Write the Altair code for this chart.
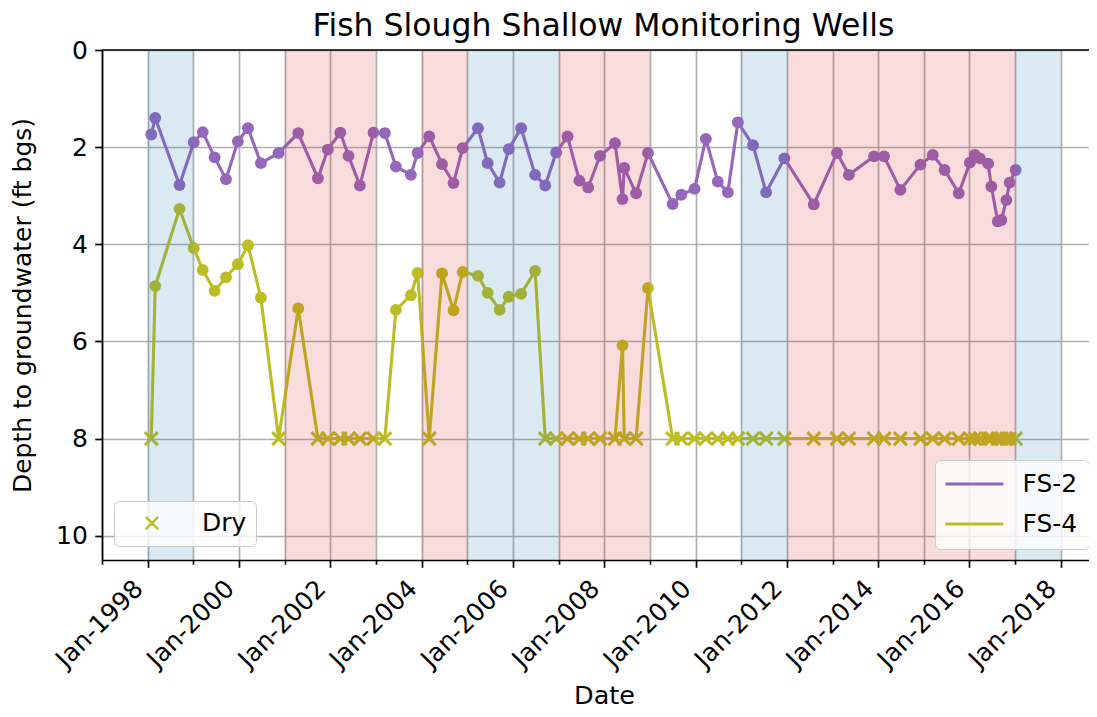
import altair as alt
import pandas as pd

# ---------------- data ----------------
dates = [
    "1998-01-30", "1998-03-03", "1998-09-13", "1999-01-05", "1999-03-18", "1999-06-21", "1999-09-20", "1999-12-24",
    "2000-03-14", "2000-06-25", "2000-11-14", "2001-04-20", "2001-09-24", "2001-12-13", "2002-03-22", "2002-05-27",
    "2002-08-26", "2002-12-13", "2003-03-14", "2003-06-10", "2003-10-08", "2003-12-01", "2004-03-03", "2004-06-13",
    "2004-09-13", "2004-11-25", "2005-03-28", "2005-06-13", "2005-09-17", "2005-11-29", "2006-03-08", "2006-06-28",
    "2006-09-17", "2006-12-13", "2007-03-14", "2007-06-17", "2007-08-26", "2007-11-29", "2008-03-28", "2008-05-27",
    "2008-06-10", "2008-09-13", "2008-12-17", "2009-07-02", "2009-09-09", "2009-12-24", "2010-03-25", "2010-06-28",
    "2010-09-17", "2010-12-06", "2011-04-06", "2011-07-20", "2011-12-13", "2012-08-04", "2013-02-06", "2013-05-12",
    "2013-11-29", "2014-02-17", "2014-06-28", "2014-12-06", "2015-03-14", "2015-06-17", "2015-10-08", "2016-01-05",
    "2016-02-14", "2016-03-25", "2016-05-30", "2016-06-25", "2016-08-15", "2016-09-13", "2016-10-23", "2016-11-18",
    "2017-01-05",
]

fs2 = [
    1.74, 1.40, 2.78, 1.90, 1.69, 2.21, 2.66, 1.88,
    1.61, 2.33, 2.12, 1.71, 2.64, 2.05, 1.70, 2.18,
    2.79, 1.70, 1.71, 2.40, 2.57, 2.12, 1.78, 2.35,
    2.74, 2.02, 1.61, 2.33, 2.73, 2.04, 1.61, 2.57,
    2.79, 2.11, 1.78, 2.69, 2.83, 2.18, 1.92, 3.07,
    2.43, 2.95, 2.12, 3.17, 2.98, 2.86, 1.83, 2.71,
    2.93, 1.49, 1.96, 2.93, 2.23, 3.18, 2.12, 2.57,
    2.19, 2.19, 2.88, 2.36, 2.16, 2.47, 2.95, 2.32,
    2.16, 2.23, 2.34, 2.81, 3.53, 3.50, 3.09, 2.73,
    2.47,
]

# None = well dry (plotted at the dry level)
fs4 = [
    None, 4.86, 3.27, 4.08, 4.53, 4.96, 4.68, 4.41,
    4.02, 5.10, None, 5.32, None, None, None, None,
    None, None, None, 5.35, 5.05, 4.59, None, 4.60,
    5.36, 4.57, 4.65, 5.00, 5.35, 5.08, 5.02, 4.55,
    None, None, None, None, None, None, None, 6.08,
    None, None, 4.90, None, None, None, None, None,
    None, None, None, None, None, None, None, None,
    None, None, None, None, None, None, None, None,
    None, None, None, None, None, None, None, None,
    None,
]
DRY_LEVEL = 8.0

wet_years = [1998, 2005, 2006, 2011, 2017]
dry_years = [2001, 2002, 2004, 2007, 2008, 2012, 2013, 2014, 2015, 2016]

tick_years = list(range(1997, 2019))
x_domain = ["1997-01-01", "2018-08-15"]
y_ticks = [0, 2, 4, 6, 8, 10]
y_domain = [0, 10.5]
wells = ["FS-2", "FS-4"]

PURPLE = "#9467bd"
OLIVE = "#bcbd22"
XPATH = "M-1,-1L1,1M1,-1L-1,1"
FONT = "DejaVu Sans"

# ---------------- tables ----------------
rows = []
for d, a, b in zip(dates, fs2, fs4):
    rows.append({"date": d, "well": "FS-2", "depth": a, "dry": False})
    rows.append({"date": d, "well": "FS-4", "depth": DRY_LEVEL if b is None else b, "dry": b is None})
df = pd.DataFrame(rows)

span_rows = [{"start": f"{y}-01-01", "end": f"{y + 1}-01-01", "kind": "wet"} for y in wet_years]
span_rows += [{"start": f"{y}-01-01", "end": f"{y + 1}-01-01", "kind": "dry"} for y in dry_years]
span_df = pd.DataFrame(span_rows)


def ms(s):
    return int(pd.Timestamp(s).value // 10**6)


x_scale = alt.Scale(type="utc", domain=[ms(x_domain[0]), ms(x_domain[1])], nice=False)
x_axis = alt.Axis(
    values=[ms(f"{y}-01-01") for y in tick_years],
    labelExpr="utcyear(datum.value) % 2 === 0 ? utcFormat(datum.value, '%b-%Y') : ''",
    labelAngle=-45,
    labelAlign="right",
    labelBaseline="bottom",
    labelPadding=26,
    labelOverlap=False,
    labelBound=False,
    labelFlush=False,
    tickSize={"condition": {"test": "utcyear(datum.value) % 2 === 0", "value": 7.3}, "value": 4.2},
    title="Date",
    titleX=502,
    titleY=143,
    titleAlign="center",
    titleBaseline="alphabetic",
    titleFontSize=25.5,
    grid=True,
)
y_scale = alt.Scale(domain=y_domain, reverse=True, nice=False, zero=False)
y_axis = alt.Axis(
    values=y_ticks,
    tickSize=7.3,
    labelPadding=7.3,
    title="Depth to groundwater (ft bgs)",
    titleX=-72,
    titleBaseline="alphabetic",
    titleFontSize=25,
    grid=True,
)

x_enc = alt.X("date:T", scale=x_scale, axis=x_axis, title="Date")
y_enc = alt.Y("depth:Q", scale=y_scale, axis=y_axis, title="Depth to groundwater (ft bgs)")

legend_common = dict(
    title=None,
    orient="none",
    labelFontSize=25,
    labelFont=FONT,
    labelColor="black",
    fillColor="rgba(255,255,255,0.8)",
    strokeColor="#cccccc",
    cornerRadius=5,
)
line_legend = alt.Legend(
    legendX=833,
    legendY=410,
    padding=11.5,
    rowPadding=14,
    symbolType="M-2.9,0L2.9,0",
    symbolSize=400,
    symbolStrokeWidth=3.1,
    symbolOffset=15.5,
    labelOffset=35.5,
    **legend_common,
)
dry_legend = alt.Legend(
    legendX=12,
    legendY=451,
    padding=9.5,
    symbolSize=150,
    symbolStrokeWidth=2.5,
    symbolStrokeColor=OLIVE,
    symbolFillColor="transparent",
    symbolOffset=16,
    labelOffset=37.5,
    **legend_common,
)

base = alt.Chart(df)

lines = base.mark_line(strokeWidth=3.1).encode(
    x=x_enc,
    y=y_enc,
    color=alt.Color("well:N", scale=alt.Scale(domain=wells, range=[PURPLE, OLIVE]), legend=line_legend),
)

pts2 = base.transform_filter("datum.well === 'FS-2'").mark_circle(
    size=140, opacity=1, color=PURPLE
).encode(x=x_enc, y=y_enc)

pts4 = base.transform_filter("datum.well === 'FS-4' && !datum.dry").mark_circle(
    size=140, opacity=1, color=OLIVE
).encode(x=x_enc, y=y_enc)

dry = base.transform_filter("datum.dry").transform_calculate(label="'Dry'").mark_point(
    filled=False, size=169, strokeWidth=3, color=OLIVE, opacity=1
).encode(
    x=x_enc,
    y=y_enc,
    shape=alt.Shape("label:N", scale=alt.Scale(domain=["Dry"], range=[XPATH]), legend=dry_legend),
)

spans = alt.Chart(span_df).mark_rect(opacity=0.16).encode(
    x=alt.X("start:T", scale=x_scale, axis=x_axis, title="Date"),
    x2="end:T",
    fill=alt.Fill("kind:N", scale=alt.Scale(domain=["wet", "dry"], range=["#1f77b4", "#d62728"]), legend=None),
)

# top spine of the axes frame (at depth 0)
top_spine = alt.Chart(pd.DataFrame({"v": [0]})).mark_rule(color="black", strokeWidth=1.7).encode(
    y=alt.datum(y_domain[0])
)

chart = (
    alt.layer(lines, pts2, pts4, dry, spans, top_spine)
    .properties(
        width=987,
        height=510,
        title=alt.TitleParams(
            "Fish Slough Shallow Monitoring Wells",
            fontSize=31.5,
            font=FONT,
            fontWeight="normal",
            color="black",
            anchor="middle",
            frame="group",
            offset=2,
            dx=8,
            dy=6,
        ),
        autosize=alt.AutoSizeParams(type="none"),
        padding={"left": 94, "top": 42, "right": 0, "bottom": 149},
    )
    .configure(font=FONT)
    .configure_view(stroke="transparent")
    .configure_axis(
        gridColor="#b0b0b0",
        gridWidth=1.7,
        domainColor="black",
        domainWidth=1.7,
        tickColor="black",
        tickWidth=1.7,
        labelFont=FONT,
        labelFontSize=25,
        labelColor="black",
        titleFont=FONT,
        titleFontWeight="normal",
        titleColor="black",
    )
)

chart.save("out.html", embed_options={"renderer": "svg", "actions": False})
